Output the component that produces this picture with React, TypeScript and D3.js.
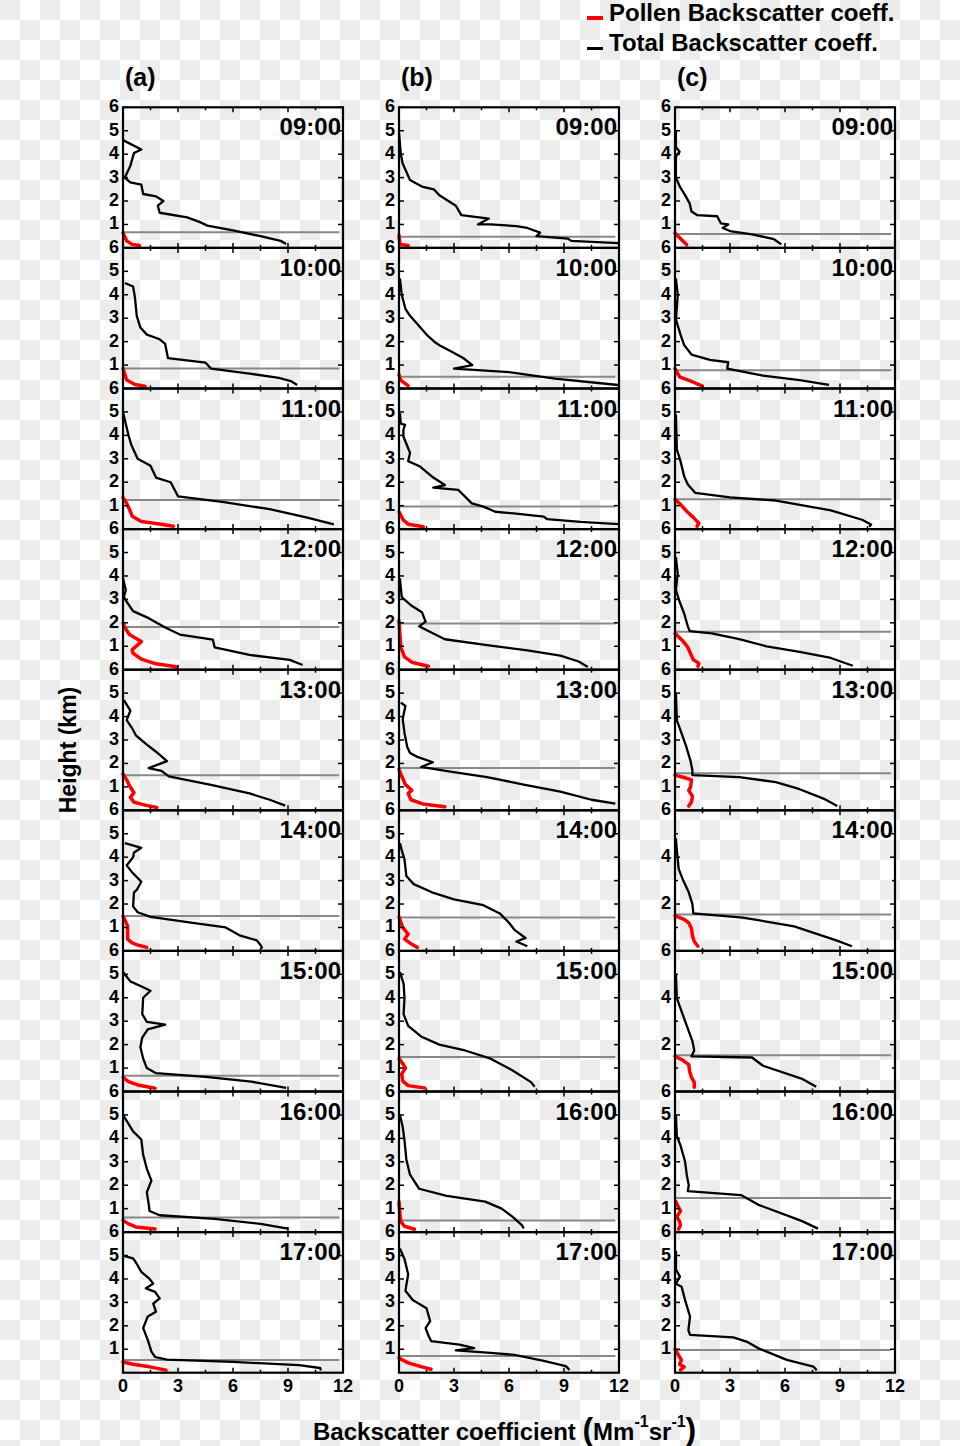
import React from 'react';
import * as d3 from 'd3';

type P = [number, number];

const times = ['09:00', '10:00', '11:00', '12:00', '13:00', '14:00', '15:00', '16:00', '17:00'];
const columnLabels = ['(a)', '(b)', '(c)'];
const xTickLabels = [0, 3, 6, 9, 12];
const xMinorTicks = [1.5, 4.5, 7.5, 10.5];

const totalA: P[][] = [
  [[0,4.6],[1.0,4.2],[0.6,4.05],[0.4,3.5],[0.1,3.0],[0.4,2.8],[1.0,2.7],[1.1,2.3],[1.8,2.2],[2.2,2.0],[1.9,1.8],[2.0,1.5],[3.5,1.3],[4.2,1.1],[4.6,0.95],[6.0,0.75],[7.5,0.5],[8.6,0.3],[8.9,0.17]],
  [[0.1,4.5],[0.55,4.35],[0.65,3.9],[0.75,3.1],[0.95,2.6],[1.3,2.3],[2.0,2.1],[2.3,1.9],[2.45,1.3],[4.5,1.1],[4.8,0.85],[6.8,0.65],[8.5,0.45],[9.2,0.3],[9.5,0.15]],
  [[0,5.0],[0.15,4.5],[0.3,4.0],[0.45,3.6],[0.8,3.0],[1.5,2.7],[1.8,2.2],[2.6,2.0],[3.0,1.4],[5.5,1.15],[8.0,0.85],[10.0,0.5],[11.5,0.2]],
  [[0,3.9],[0.15,3.4],[0.05,3.1],[0.2,2.9],[0.55,2.5],[1.4,2.2],[2.3,1.8],[3.1,1.5],[4.9,1.28],[5.0,0.95],[6.9,0.63],[9.1,0.42],[9.8,0.2]],
  [[0.05,4.7],[0.4,4.25],[0.2,3.85],[0.5,3.5],[0.7,3.2],[1.3,2.8],[1.8,2.5],[2.4,2.1],[1.4,1.8],[2.1,1.68],[2.5,1.45],[4.8,1.08],[6.9,0.72],[8.0,0.45],[8.85,0.2]],
  [[0.1,4.6],[1.0,4.4],[0.6,4.2],[0.55,4.0],[0.2,3.65],[0.5,3.35],[1.0,2.95],[0.75,2.6],[0.6,2.5],[0.55,1.9],[0.8,1.65],[1.5,1.45],[4.2,1.15],[5.6,1.0],[6.4,0.65],[7.3,0.45],[7.5,0.25],[7.6,0.1]],
  [[0,5.1],[0.4,4.7],[1.1,4.45],[1.5,4.3],[1.1,4.0],[1.05,3.3],[1.3,2.97],[2.3,2.85],[1.35,2.65],[1.05,2.3],[0.95,1.9],[1.1,1.4],[1.3,1.0],[1.8,0.78],[4.5,0.62],[7.0,0.42],[8.9,0.15]],
  [[0,5.0],[0.55,4.3],[1.0,3.95],[1.1,3.3],[1.3,2.7],[1.55,2.2],[1.3,1.7],[1.4,1.2],[1.45,0.9],[2.0,0.72],[5.0,0.56],[7.5,0.35],[9.0,0.15]],
  [[0,5.0],[0.55,4.88],[0.75,4.65],[1.0,4.3],[1.45,4.0],[1.65,3.8],[1.25,3.6],[1.75,3.45],[2.0,3.17],[1.65,2.95],[1.8,2.6],[1.35,2.4],[1.1,1.9],[1.35,1.4],[1.55,0.9],[1.75,0.67],[2.4,0.56],[6.0,0.46],[9.6,0.32],[10.75,0.2],[10.8,0.1]],
];
const pollenA: P[][] = [
  [[0,0.65],[0.2,0.3],[0.5,0.15],[0.9,0.1]],
  [[0,0.85],[0.2,0.36],[0.65,0.17],[1.2,0.1]],
  [[0,1.35],[0.2,1.1],[0.35,0.85],[0.5,0.55],[1.0,0.32],[2.0,0.22],[2.75,0.12]],
  [[0,2.0],[0.1,1.8],[0.35,1.5],[1.0,1.2],[0.5,0.85],[0.55,0.7],[1.0,0.45],[1.8,0.25],[2.9,0.13]],
  [[0,1.55],[0.2,1.3],[0.35,1.05],[0.6,0.75],[0.4,0.55],[0.6,0.35],[1.2,0.22],[1.85,0.12]],
  [[0,1.49],[0.25,1.06],[0.25,0.5],[0.5,0.34],[0.85,0.24],[1.3,0.15]],
  [[0,0.6],[0.3,0.42],[0.8,0.28],[1.75,0.14]],
  [[0,0.5],[0.3,0.35],[0.7,0.22],[1.75,0.13]],
  [[0,0.46],[0.55,0.36],[1.45,0.25],[2.35,0.11]],
];
const pblA = [0.67, 0.85, 1.24, 1.82, 1.5, 1.49, 0.67, 0.62, 0.54];

const totalB: P[][] = [
  [[0,4.9],[0.1,4.0],[0.2,3.6],[0.6,2.9],[1.3,2.6],[1.9,2.5],[2.2,2.25],[3.1,1.8],[3.4,1.4],[4.9,1.25],[4.3,1.0],[5.0,1.0],[6.4,0.93],[7.0,0.85],[7.7,0.65],[7.5,0.5],[9.2,0.4],[9.4,0.3],[11.95,0.2]],
  [[0.05,4.7],[0.15,4.0],[0.35,3.4],[0.6,3.1],[1.0,2.75],[1.5,2.3],[2.0,1.95],[2.2,1.85],[2.8,1.6],[3.5,1.3],[4.0,1.0],[3.0,0.85],[6.0,0.7],[8.5,0.42],[11.95,0.15]],
  [[0.05,4.95],[0.1,4.5],[0.33,4.45],[0.24,4.24],[0.24,3.95],[0.5,3.45],[0.6,3.25],[0.5,2.9],[1.15,2.67],[1.87,2.2],[2.5,1.88],[1.87,1.77],[3.24,1.67],[3.97,1.1],[4.6,0.96],[5.25,0.74],[6.25,0.67],[7.9,0.53],[8.07,0.43],[9.9,0.31],[11.98,0.21]],
  [[0.05,3.9],[0.15,3.1],[0.65,2.75],[1.25,2.45],[1.45,2.05],[1.1,1.85],[1.6,1.65],[2.5,1.3],[4.8,1.05],[7.0,0.82],[8.8,0.6],[9.8,0.35],[10.3,0.12]],
  [[0.1,4.6],[0.35,4.45],[0.2,3.9],[0.3,3.3],[0.45,2.7],[0.6,2.45],[1.0,2.28],[1.85,2.05],[1.2,1.85],[2.8,1.65],[4.8,1.42],[6.8,1.1],[8.8,0.8],[10.5,0.45],[11.8,0.28]],
  [[0.05,4.6],[0.15,4.3],[0.3,3.9],[0.4,3.2],[0.8,2.85],[1.8,2.5],[3.0,2.2],[4.6,1.95],[5.5,1.6],[6.0,1.2],[6.3,0.9],[6.9,0.55],[6.4,0.4],[7.0,0.2]],
  [[0.05,5.1],[0.25,4.6],[0.3,4.0],[0.25,3.3],[0.5,2.8],[1.2,2.35],[2.2,2.0],[3.6,1.75],[5.0,1.4],[6.2,0.9],[7.2,0.4],[7.4,0.2]],
  [[0.05,5.0],[0.2,4.5],[0.3,3.9],[0.4,3.1],[0.6,2.45],[1.1,1.85],[2.6,1.55],[4.7,1.3],[5.6,1.0],[6.2,0.65],[6.7,0.3],[6.8,0.15]],
  [[0.05,5.3],[0.3,4.85],[0.5,4.2],[0.35,3.5],[0.75,3.1],[1.5,2.75],[1.7,2.2],[1.45,1.9],[1.6,1.6],[1.75,1.35],[3.3,1.2],[4.1,1.05],[3.1,0.95],[5.0,0.85],[6.3,0.76],[7.9,0.5],[9.1,0.28],[9.3,0.12]],
];
const pollenB: P[][] = [
  [[0,0.55],[0.05,0.15],[0.5,0.1]],
  [[0,0.6],[0.1,0.35],[0.5,0.12]],
  [[0,0.74],[0.24,0.38],[0.51,0.21],[1.33,0.1]],
  [[0,2.1],[0.05,1.5],[0.1,0.95],[0.3,0.55],[0.7,0.32],[1.6,0.15]],
  [[0,1.75],[0.15,1.45],[0.35,1.1],[0.7,0.85],[0.5,0.72],[0.65,0.45],[1.3,0.27],[2.5,0.15]],
  [[0,1.45],[0.2,1.0],[0.5,0.72],[0.3,0.5],[0.7,0.28],[1.0,0.15]],
  [[0,1.4],[0.2,1.2],[0.35,1.0],[0.15,0.75],[0.2,0.45],[0.5,0.25],[1.4,0.15]],
  [[0,1.3],[0.05,0.8],[0.1,0.45],[0.3,0.25],[0.85,0.12]],
  [[0,0.62],[0.5,0.42],[1.3,0.24],[1.75,0.15]],
];
const pblB = [0.48, 0.5, 0.96, 1.97, 1.8, 1.43, 1.47, 0.5, 0.71];

const totalC: P[][] = [
  [[0.05,5.0],[0.05,4.3],[0.25,4.1],[0.05,3.9],[0.05,3.0],[0.27,2.6],[0.55,2.25],[0.8,1.9],[0.9,1.55],[1.2,1.4],[2.3,1.35],[2.5,1.05],[2.9,1.0],[2.6,0.85],[3.0,0.72],[4.2,0.58],[5.4,0.37],[5.8,0.15]],
  [[0.05,4.7],[0.15,4.0],[0.05,2.95],[0.3,2.3],[0.5,1.85],[0.9,1.45],[1.9,1.22],[2.9,1.12],[2.85,0.85],[4.8,0.55],[6.8,0.36],[8.4,0.15]],
  [[0.05,4.9],[0.1,3.4],[0.3,2.9],[0.5,2.25],[0.7,1.9],[1.1,1.55],[3.0,1.35],[5.5,1.22],[8.5,0.8],[10.2,0.4],[10.7,0.2],[10.6,0.1]],
  [[0.05,4.8],[0.15,4.1],[0.05,3.4],[0.25,2.9],[0.5,2.4],[0.7,1.85],[0.8,1.65],[2.0,1.55],[3.5,1.3],[5.0,1.0],[6.8,0.76],[8.5,0.5],[9.7,0.17]],
  [[0.05,5.0],[0.1,3.85],[0.35,3.3],[0.6,2.75],[0.85,2.1],[0.95,1.7],[0.95,1.5],[3.5,1.42],[5.5,1.2],[6.8,0.9],[8.1,0.5],[8.85,0.18]],
  [[0.05,4.8],[0.1,4.3],[0.2,3.5],[0.45,3.0],[0.75,2.5],[0.95,2.0],[1.0,1.6],[3.7,1.42],[6.5,1.05],[8.8,0.45],[9.65,0.2]],
  [[0.05,5.0],[0.1,4.0],[0.25,3.65],[0.6,2.9],[0.95,2.15],[1.05,1.75],[0.9,1.5],[4.2,1.45],[4.8,1.1],[6.9,0.55],[7.7,0.2]],
  [[0.05,5.0],[0.1,4.1],[0.3,3.7],[0.55,3.0],[0.65,2.4],[0.75,2.0],[0.7,1.75],[3.6,1.58],[4.6,1.15],[6.9,0.48],[7.8,0.15]],
  [[0.06,5.2],[0.05,4.4],[0.27,4.1],[0.05,3.8],[0.36,3.67],[0.55,3.1],[0.82,2.4],[0.73,1.82],[0.82,1.61],[3.18,1.51],[3.9,1.33],[4.55,1.04],[6.1,0.55],[7.55,0.26],[7.73,0.1]],
];
const pollenC: P[][] = [
  [[0,0.63],[0.64,0.13]],
  [[0,0.85],[0.25,0.5],[0.9,0.3],[1.5,0.1]],
  [[0,1.27],[0.3,1.05],[0.65,0.75],[1.0,0.5],[1.3,0.25],[1.2,0.12]],
  [[0,1.55],[0.4,1.25],[0.7,0.95],[0.9,0.6],[1.0,0.42],[1.3,0.28],[1.25,0.15]],
  [[0,1.5],[0.5,1.4],[0.9,1.3],[0.85,1.0],[0.75,0.85],[0.95,0.6],[0.9,0.35],[0.75,0.18]],
  [[0,1.5],[0.5,1.35],[0.75,1.2],[0.9,0.95],[0.95,0.65],[1.05,0.4],[1.25,0.2]],
  [[0,1.5],[0.4,1.35],[0.75,1.15],[0.8,0.85],[0.9,0.6],[1.05,0.4],[1.05,0.18]],
  [[0.05,1.3],[0.2,1.05],[0.3,0.9],[0.1,0.65],[0.25,0.45],[0.3,0.3],[0.2,0.13]],
  [[0,1.0],[0.15,0.8],[0.35,0.55],[0.25,0.35],[0.5,0.25],[0.3,0.12]],
];
const pblC = [0.59, 0.78, 1.27, 1.62, 1.58, 1.55, 1.55, 1.45, 0.97];

const yTicksDefault = [1, 2, 3, 4, 5, 6];
const yTicksSparse = [2, 4, 6];

const totals = [totalA, totalB, totalC];
const pollens = [pollenA, pollenB, pollenC];
const pbls = [pblA, pblB, pblC];

const FONT = "'Liberation Sans', Arial, Helvetica, sans-serif";
const colLeft = [123, 399, 675];
const panelW = 220;
const top0 = 107.3;
const panelH = 140.6;

function Panel({ col, row }: { col: number; row: number }) {
  const left = colLeft[col];
  const top = top0 + panelH * row;
  const bottom = top + panelH;
  const x = d3.scaleLinear().domain([0, 12]).range([left, left + panelW]);
  const y = d3.scaleLinear().domain([0, 6]).range([bottom, top]);
  const line = d3.line<P>().x(d => x(d[0])).y(d => y(d[1]));
  const sparse = col === 2 && (row === 5 || row === 6);
  const yMajor = sparse ? yTicksSparse : yTicksDefault;
  const yMinor = sparse ? [1, 3, 5] : [];
  const pbl = pbls[col][row];
  const isLast = row === 8;
  return (
    <g>
      <line x1={x(0)} x2={x(11.8)} y1={y(pbl)} y2={y(pbl)} stroke="#888" strokeWidth={2} />
      <path d={line(totals[col][row]) || ''} fill="none" stroke="#000" strokeWidth={2.3} strokeLinejoin="round" />
      <path d={line(pollens[col][row]) || ''} fill="none" stroke="#ff0000" strokeWidth={3.5} strokeLinejoin="round" strokeLinecap="round" />
      {xTickLabels.map(t => (
        <g key={'xt' + t}>
          <line x1={x(t)} x2={x(t)} y1={top} y2={top + 5} stroke="#000" strokeWidth={1.5} />
          <line x1={x(t)} x2={x(t)} y1={bottom} y2={bottom - 5} stroke="#000" strokeWidth={1.5} />
        </g>
      ))}
      {xMinorTicks.map(t => (
        <g key={'xm' + t}>
          <line x1={x(t)} x2={x(t)} y1={top} y2={top + 3} stroke="#000" strokeWidth={1.5} />
          <line x1={x(t)} x2={x(t)} y1={bottom} y2={bottom - 3} stroke="#000" strokeWidth={1.5} />
        </g>
      ))}
      {yMajor.map(t => (
        <g key={'yt' + t}>
          <line x1={left} x2={left + 5} y1={y(t)} y2={y(t)} stroke="#000" strokeWidth={1.5} />
          <line x1={left + panelW} x2={left + panelW - 5} y1={y(t)} y2={y(t)} stroke="#000" strokeWidth={1.5} />
          <text x={left - 4} y={y(t) + 5} textAnchor="end" fontSize={18} fontWeight="bold" fontFamily={FONT}>{t}</text>
        </g>
      ))}
      {yMinor.map(t => (
        <g key={'ym' + t}>
          <line x1={left} x2={left + 3} y1={y(t)} y2={y(t)} stroke="#000" strokeWidth={1.5} />
          <line x1={left + panelW} x2={left + panelW - 3} y1={y(t)} y2={y(t)} stroke="#000" strokeWidth={1.5} />
        </g>
      ))}
      <rect x={left} y={top} width={panelW} height={panelH} fill="none" stroke="#000" strokeWidth={2.2} />
      <text x={left + panelW - 2} y={top + 28} textAnchor="end" fontSize={24} fontWeight="bold" fontFamily={FONT}>{times[row]}</text>
      {isLast && xTickLabels.map(t => (
        <text key={'xl' + t} x={x(t)} y={bottom + 19} textAnchor="middle" fontSize={18} fontWeight="bold" fontFamily={FONT}>{t}</text>
      ))}
    </g>
  );
}

export default function App() {
  const panels: JSX.Element[] = [];
  for (let c = 0; c < 3; c++) for (let r = 0; r < 9; r++) panels.push(<Panel key={c + '-' + r} col={c} row={r} />);
  return (
    <svg width={960} height={1446} style={{ position: 'absolute', left: 0, top: 0, display: 'block' }} fontFamily={FONT}>
      <defs>
        <pattern id="chk" width={40} height={40} patternUnits="userSpaceOnUse">
          <rect width={40} height={40} fill="#ffffff" />
          <rect x={0} y={0} width={20} height={20} fill="#ececec" />
          <rect x={20} y={20} width={20} height={20} fill="#ececec" />
        </pattern>
      </defs>
      <rect width={960} height={1446} fill="url(#chk)" />
      {/* legend */}
      <rect x={587} y={16} width={16} height={4} fill="#ff0000" />
      <text x={609} y={21} fontSize={24} fontWeight="bold">Pollen Backscatter coeff.</text>
      <rect x={587} y={47} width={16} height={3} fill="#000" />
      <text x={609} y={51} fontSize={24} fontWeight="bold">Total Backscatter coeff.</text>
      {columnLabels.map((l, i) => (
        <text key={l} x={colLeft[i] + 2} y={86} fontSize={25} fontWeight="bold">{l}</text>
      ))}
      {panels}
      <text transform="translate(76,750) rotate(-90)" textAnchor="middle" fontSize={23} fontWeight="bold">Height (km)</text>
      <text x={313} y={1440} fontSize={24} fontWeight="bold">
        <tspan>Backscatter coefficient </tspan>
        <tspan fontSize={32}>(</tspan>
        <tspan>Mm</tspan>
        <tspan fontSize={16} dy={-13}>-1</tspan>
        <tspan dy={13}>sr</tspan>
        <tspan fontSize={16} dy={-13}>-1</tspan>
        <tspan fontSize={32} dy={13}>)</tspan>
      </text>
    </svg>
  );
}
